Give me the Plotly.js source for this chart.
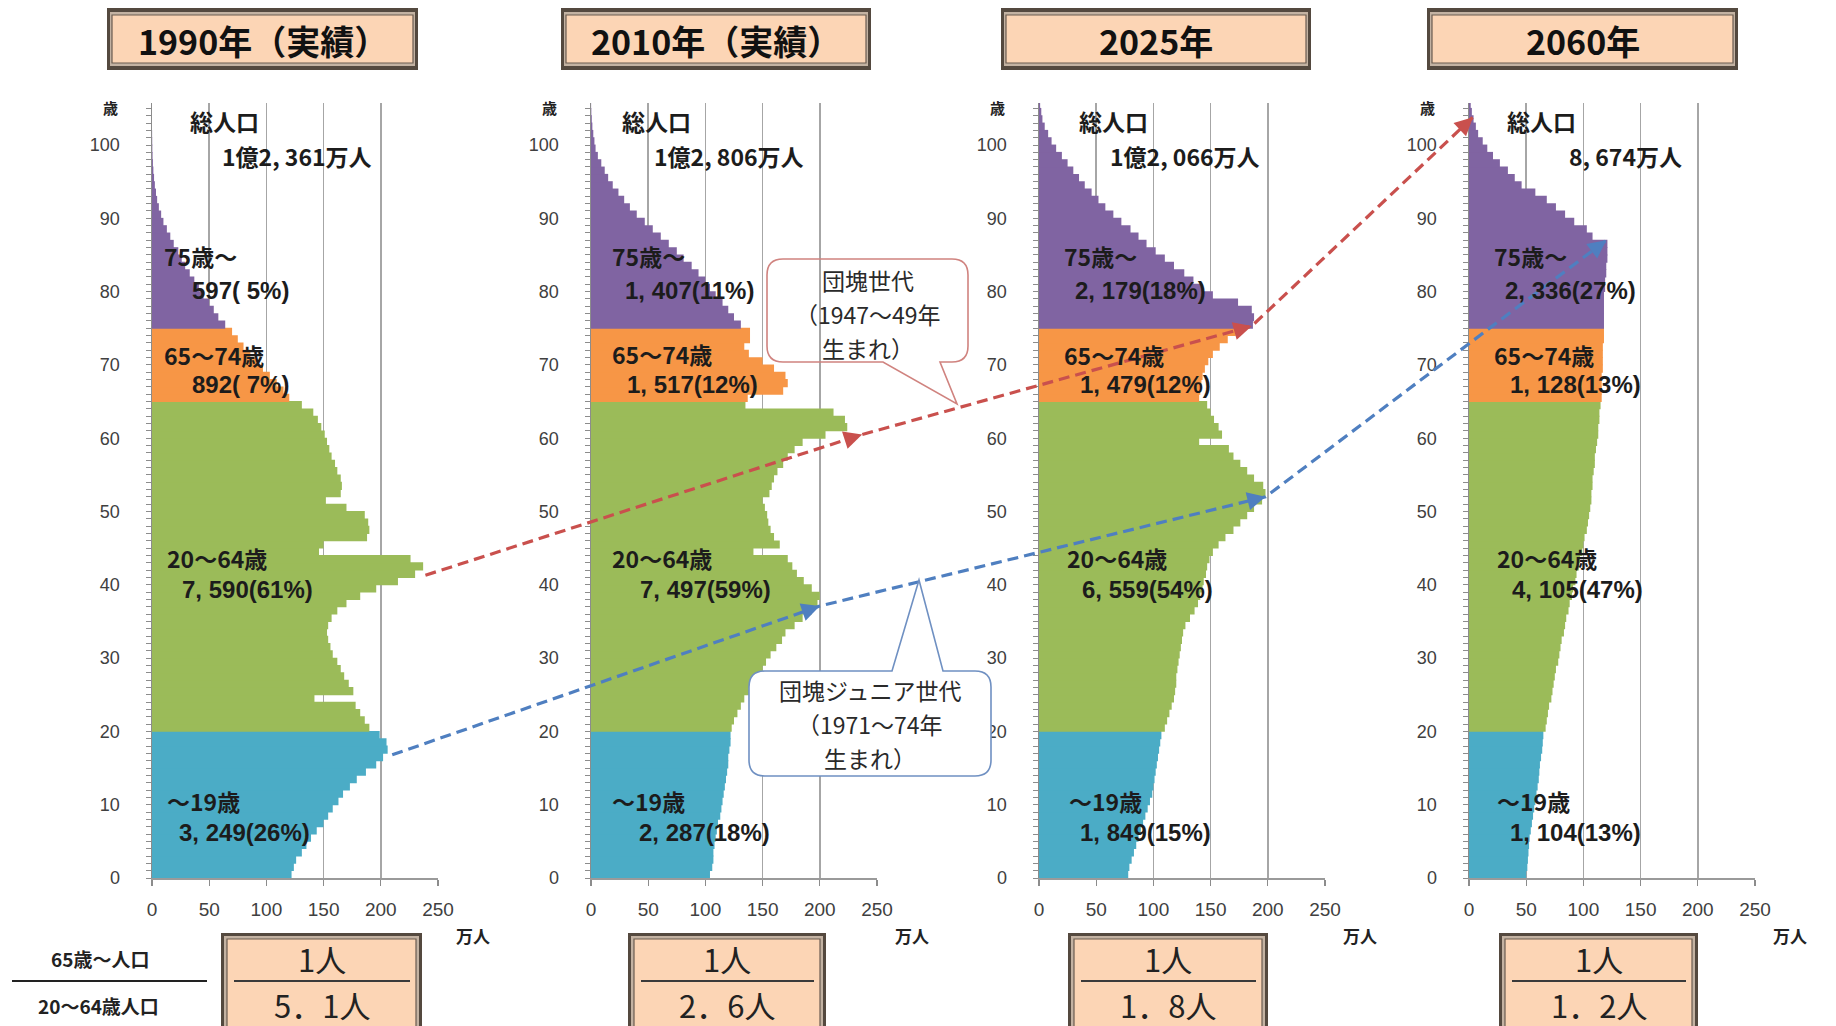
<!DOCTYPE html>
<html>
<head>
<meta charset="utf-8">
<script src="https://cdn.plot.ly/plotly-3.0.1.min.js"></script>
<style>html,body{margin:0;padding:0;background:#fff;} #chart{width:1836px;height:1026px;}</style>
</head>
<body>
<div id="chart"></div>
<script>
// ---------- DATA ----------
const ages = Array.from({length: 106}, (_, i) => i); // age categories 0..105

const pop1990 = [
  122,124,126,131,135,139,144,150,154,158,163,167,173,179,187,196,202,206,205,199,
  190,186,182,178,142,176,172,168,165,162, 158,156,154,153,154,157,162,170,182,196,
  215,230,237,226,146,150,188,190,189,186, 170,152,165,166,165,162,160,157,155,153,
  151,148,145,141,131,
  120,115,109,103,97,91,86,80,75,70,
  64,58,54,50,45,41,37,33,29,26,23,19,16,13,10,8,6,4.5,3.5,2.5,1.8,1.2,0.8,0.5,0.3,0.2,0.1,0,0,0,0
];
const pop2010 = [
  104,106,107,107,108,109,110,111,113,114,115,116,117,118,119,120,120,121,122,122,
  123,125,128,131,134,138,142,146,150,153, 157,162,167,170,178,185,193,198,200,193,
  186,180,176,172,142,165,160,157,155,154, 152,150,156,158,160,163,168,172,178,185,
  205,224,222,212,135,
  137,168,172,170,160,150,138,134,139,139,
  131,125,120,115,109,104,100,94,88,81,75,68,61,54,47,40,34,29,24,19,15,12,9,6,4,3,2,1.2,0.7,0.3,0.1
];
const pop2025 = [
  78,79,81,83,85,87,89,91,93,95,97,99,100,101,102,103,104,105,106,107,
  110,112,114,116,118,119,120,120,121,122, 123,124,125,126,128,132,136,139,141,143,
  144,146,147,149,152,157,163,170,176,182, 188,195,198,196,188,182,176,170,166,140,
  160,157,153,150,147,
  140,141,142,143,145,148,152,158,165,172,
  187,188,186,174,152,143,135,127,118,110,102,94,87,80,72,65,58,52,46,40,35,30,25,20,15,11,8,5,3,2,1
];
const pop2060 = [
  50,51,51.5,52,52.5,53,54,55,56,57,58,59,60,61,61.5,62,63,64,64.5,65,
  67,68,69,70,72,73,74,75,76,78, 79,80,81,83,84,85,87,88,90,91,
  93,94,96,97,99,100,101,103,104,105, 106,107,107,108,108,109,110,110,111,112,
  113,113,114,114,115,
  116,116,116,116,117,117,117,117,118,118,
  118,118,118,118,118,119,119,120,120,121,121,121,108,103,92,84,76,68,58,46,40,34,27,21,16,12,8,6,4,2.5,1.5
];
const pops = [pop1990, pop2010, pop2025, pop2060];

const groupStarts = [0, 20, 65, 75];
const groupNames = ['～19歳', '20～64歳', '65～74歳', '75歳～'];
const groupColors = ['#4BACC6', '#9BBB59', '#F79646', '#8064A2'];

const yearTitles = ['1990年（実績）', '2010年（実績）', '2025年', '2060年'];
const totals = ['1億2, 361万人', '1億2, 806万人', '1億2, 066万人', '8, 674万人'];
const g0Text  = ['3, 249(26%)', '2, 287(18%)', '1, 849(15%)', '1, 104(13%)'];
const g20Text = ['7, 590(61%)', '7, 497(59%)', '6, 559(54%)', '4, 105(47%)'];
const g65Text = ['892( 7%)', '1, 517(12%)', '1, 479(12%)', '1, 128(13%)'];
const g75Text = ['597( 5%)', '1, 407(11%)', '2, 179(18%)', '2, 336(27%)'];
const ratioText = ['5．1人', '2．6人', '1．8人', '1．2人'];

const xTicks = [0, 50, 100, 150, 200, 250];
const yTicks = [0, 10, 20, 30, 40, 50, 60, 70, 80, 90, 100];

// cohort arrows (value in 万人, age) per panel
const boomerPanel = [0, 1, 2, 3];
const boomerValue = [239, 237, 186, 3.5];
const boomerAge   = [41.3, 60.5, 75.3, 103.8];
const juniorPanel = [0, 1, 2, 3];
const juniorValue = [210, 200, 198, 120];
const juniorAge   = [16.8, 37.1, 52, 87];

// ---------- LAYOUT CONSTANTS ----------
const W = 1836, H = 1026;
const panelLeftPx = [152, 591, 1039, 1469];
const panelWidthPx = 286;
const plotTopPx = 103, plotBottomPx = 878;
const XMAX = 250;
const YMAX = (plotBottomPx - plotTopPx) / 7.33;

const FONT = '"Noto Sans CJK JP", "Noto Sans", sans-serif';
const NUMFONT = '"Liberation Sans", Arial, sans-serif';

function colorOf(age) {
  let g = 0;
  for (let k = 0; k < groupStarts.length; k++) if (age >= groupStarts[k]) g = k;
  return groupColors[g];
}
function pxX(panel, v) { return panelLeftPx[panel] + v / XMAX * panelWidthPx; }
function pxY(age) { return plotBottomPx - age / YMAX * (plotBottomPx - plotTopPx); }

const traces = [];
const layout = {
  width: W, height: H,
  margin: {l: 0, r: 0, t: 0, b: 0},
  paper_bgcolor: '#ffffff',
  plot_bgcolor: 'rgba(0,0,0,0)',
  showlegend: false,
  barmode: 'overlay',
  font: {family: FONT, color: '#222'},
  shapes: [],
  annotations: []
};

for (let i = 0; i < 4; i++) {
  const s = i === 0 ? '' : String(i + 1);
  const colors = ages.map(colorOf);
  traces.push({
    type: 'bar', orientation: 'h',
    x: pops[i], y: ages.map(a => a + 0.5), width: 1.12,
    marker: {color: colors, line: {width: 0}},
    xaxis: 'x' + s, yaxis: 'y' + s, hoverinfo: 'skip'
  });
  const l = panelLeftPx[i];
  layout['xaxis' + s] = {
    domain: [l / W, (l + panelWidthPx) / W], range: [0, XMAX], anchor: 'y' + s,
    tickmode: 'array', tickvals: xTicks, ticks: 'outside', ticklen: 6, tickcolor: '#8c8c8c', tickwidth: 1.2,
    showline: true, linecolor: '#9a9a9a', linewidth: 1.5,
    showgrid: true, gridcolor: '#a6a6a6', gridwidth: 1.6, zeroline: false,
    tickfont: {family: NUMFONT, size: 19, color: '#404040'}, ticklabelstandoff: 8,
    fixedrange: true
  };
  layout['yaxis' + s] = {
    domain: [1 - plotBottomPx / H, 1 - plotTopPx / H], range: [0, YMAX], anchor: 'x' + s,
    tickmode: 'array', tickvals: yTicks, ticks: 'outside', ticklen: 5, tickcolor: '#8c8c8c', tickwidth: 1,
    minor: {tickmode: 'linear', tick0: 0, dtick: 1, ticks: 'outside', ticklen: 5, tickcolor: '#8c8c8c', tickwidth: 1, showgrid: false},
    showline: true, linecolor: '#8c8c8c', linewidth: 1.5, showgrid: false, zeroline: false,
    tickfont: {family: NUMFONT, size: 18, color: '#404040'}, ticklabelstandoff: 22,
    fixedrange: true
  };
}

// overlay pixel axes for decorations
layout.xaxis5 = {domain: [0, 1], range: [0, W], visible: false, fixedrange: true, anchor: 'y5'};
layout.yaxis5 = {domain: [0, 1], range: [H, 0], visible: false, fixedrange: true, anchor: 'x5'};

// ---------- cohort arrows ----------
function addArrow(panels, values, agesArr, color) {
  const xs = panels.map((p, k) => pxX(p, values[k]));
  const ys = agesArr.map(a => pxY(a));
  traces.push({
    type: 'scatter', mode: 'lines', x: xs, y: ys, xaxis: 'x5', yaxis: 'y5',
    line: {color: color, width: 3.2, dash: '11px,6px'}, hoverinfo: 'skip'
  });
  for (let k = 1; k < xs.length; k++) {
    const dx = xs[k] - xs[k - 1], dy = ys[k] - ys[k - 1];
    const len = Math.hypot(dx, dy);
    layout.annotations.push({
      x: xs[k], y: ys[k], ax: xs[k] - dx / len * 14, ay: ys[k] - dy / len * 14,
      xref: 'x5', yref: 'y5', axref: 'x5', ayref: 'y5', text: '',
      showarrow: true, arrowhead: 2, arrowsize: 1.4, arrowwidth: 2.6, arrowcolor: color, standoff: 0
    });
  }
}
addArrow(boomerPanel, boomerValue, boomerAge, '#C9504D');
addArrow(juniorPanel, juniorValue, juniorAge, '#4F7FC0');

// ---------- panel labels ----------
// [x value of left edge, age of line centre]
const labelPos = [
  {tot0: [31.5, 103.3], tot1: [59.4, 98.5], g75a: [8.7, 84.8], g75b: [33, 80.2], g65a: [8.7, 71.4], g65b: [33, 67.3], g20a: [11.4, 43.6], g20b: [24.5, 39.4], g0a: [11.4, 10.5], g0b: [21.9, 6.2]},
  {tot0: [25, 103.3],   tot1: [53, 98.5],   g75a: [16.6, 84.8], g75b: [28, 80.2], g65a: [16.6, 71.5], g65b: [29.7, 67.3], g20a: [16.6, 43.6], g20b: [41, 39.4], g0a: [16.6, 10.5], g0b: [40, 6.2]},
  {tot0: [33, 103.3],   tot1: [60, 98.5],   g75a: [20, 84.8], g75b: [30, 80.2], g65a: [20, 71.4], g65b: [34, 67.3], g20a: [23, 43.6], g20b: [36, 39.4], g0a: [24.5, 10.5], g0b: [34, 6.2]},
  {tot0: [31.5, 103.3], tot1: [86, 98.5],   g75a: [20, 84.8], g75b: [30, 80.2], g65a: [20, 71.4], g65b: [34, 67.3], g20a: [23, 43.6], g20b: [36, 39.4], g0a: [23, 10.5], g0b: [34, 6.2]}
];

for (let i = 0; i < 4; i++) {
  const s = i === 0 ? '' : String(i + 1);
  const P = labelPos[i];
  const cjk = [['総人口', P.tot0], [totals[i], P.tot1],
    [groupNames[3], P.g75a], [groupNames[2], P.g65a], [groupNames[1], P.g20a], [groupNames[0], P.g0a]];
  cjk.forEach(([t, p]) => {
    layout.annotations.push({
      x: p[0], y: p[1], xref: 'x' + s, yref: 'y' + s, text: t, showarrow: false,
      xanchor: 'left', yanchor: 'middle',
      font: {family: FONT, size: 23, color: '#1c1c1c', weight: 'bold'}
    });
  });
  const nums = [[g75Text[i], P.g75b], [g65Text[i], P.g65b], [g20Text[i], P.g20b], [g0Text[i], P.g0b]];
  nums.forEach(([t, p]) => {
    layout.annotations.push({
      x: p[0], y: p[1], xref: 'x' + s, yref: 'y' + s, text: t, showarrow: false,
      xanchor: 'left', yanchor: 'middle',
      font: {family: NUMFONT, size: 24, color: '#1c1c1c', weight: 'bold'}
    });
  });
  // 歳 label
  layout.annotations.push({
    x: panelLeftPx[i] - 42, y: 107, xref: 'x5', yref: 'y5', text: '歳', showarrow: false,
    font: {family: FONT, size: 15, color: '#222', weight: 'bold'}
  });
  // 万人 label
  layout.annotations.push({
    x: panelLeftPx[i] + panelWidthPx + 35, y: 935, xref: 'x5', yref: 'y5', text: '万人', showarrow: false,
    font: {family: FONT, size: 17, color: '#222', weight: 'bold'}
  });
}

// ---------- header boxes ----------
const headerBoxes = [[107, 418], [561, 871], [1001, 1311], [1427, 1738]];
headerBoxes.forEach(([x0, x1], i) => {
  layout.shapes.push({type: 'rect', xref: 'x5', yref: 'y5', x0: x0, x1: x1, y0: 8, y1: 70,
    fillcolor: '#54493f', line: {width: 0}, layer: 'above'});
  layout.shapes.push({type: 'rect', xref: 'x5', yref: 'y5', x0: x0 + 3, x1: x1 - 3, y0: 12, y1: 66,
    fillcolor: '#c3b2a2', line: {width: 0}, layer: 'above'});
  layout.shapes.push({type: 'rect', xref: 'x5', yref: 'y5', x0: x0 + 5, x1: x1 - 5, y0: 15, y1: 63,
    fillcolor: '#FCD5B5', line: {color: '#6a5c50', width: 1.2}, layer: 'above'});
  layout.annotations.push({x: (x0 + x1) / 2, y: 40, xref: 'x5', yref: 'y5', text: yearTitles[i],
    showarrow: false, font: {family: FONT, size: 34, color: '#111', weight: 'bold'}});
});

// ---------- footer boxes ----------
const footerBoxes = [[221, 422], [628, 826], [1068, 1268], [1499, 1698]];
footerBoxes.forEach(([x0, x1], i) => {
  layout.shapes.push({type: 'rect', xref: 'x5', yref: 'y5', x0: x0, x1: x1, y0: 933, y1: 1040,
    fillcolor: '#54493f', line: {width: 0}, layer: 'above'});
  layout.shapes.push({type: 'rect', xref: 'x5', yref: 'y5', x0: x0 + 3, x1: x1 - 3, y0: 936, y1: 1040,
    fillcolor: '#c3b2a2', line: {width: 0}, layer: 'above'});
  layout.shapes.push({type: 'rect', xref: 'x5', yref: 'y5', x0: x0 + 6, x1: x1 - 6, y0: 939, y1: 1040,
    fillcolor: '#FCD5B5', line: {color: '#6a5c50', width: 1.2}, layer: 'above'});
  layout.shapes.push({type: 'line', xref: 'x5', yref: 'y5', x0: x0 + 13, x1: x1 - 12, y0: 981, y1: 981,
    line: {color: '#3a3a3a', width: 2}, layer: 'above'});
  const cx = (x0 + x1) / 2;
  layout.annotations.push({x: cx, y: 958, xref: 'x5', yref: 'y5', text: '1人', showarrow: false,
    font: {family: FONT, size: 31, color: '#222'}});
  layout.annotations.push({x: cx, y: 1004, xref: 'x5', yref: 'y5', text: ratioText[i], showarrow: false,
    font: {family: FONT, size: 31, color: '#222'}});
});

// left footer fraction label
layout.shapes.push({type: 'line', xref: 'x5', yref: 'y5', x0: 12, x1: 207, y0: 981, y1: 981,
  line: {color: '#222', width: 2}, layer: 'above'});
layout.annotations.push({x: 100, y: 958, xref: 'x5', yref: 'y5', text: '65歳～人口', showarrow: false,
  font: {family: FONT, size: 19, color: '#222', weight: 'bold'}});
layout.annotations.push({x: 98, y: 1005, xref: 'x5', yref: 'y5', text: '20～64歳人口', showarrow: false,
  font: {family: FONT, size: 19, color: '#222', weight: 'bold'}});

// ---------- callouts ----------
function calloutPath(x0, y0, x1, y1, r, side, b0, b1, tx, ty) {
  let p = `M ${x0 + r},${y0} `;
  if (side === 'top') p += `L ${b0},${y0} L ${tx},${ty} L ${b1},${y0} `;
  p += `L ${x1 - r},${y0} Q ${x1},${y0} ${x1},${y0 + r} L ${x1},${y1 - r} Q ${x1},${y1} ${x1 - r},${y1} `;
  if (side === 'bottom') p += `L ${b1},${y1} L ${tx},${ty} L ${b0},${y1} `;
  p += `L ${x0 + r},${y1} Q ${x0},${y1} ${x0},${y1 - r} L ${x0},${y0 + r} Q ${x0},${y0} ${x0 + r},${y0} Z`;
  return p;
}
layout.shapes.push({type: 'path', xref: 'x5', yref: 'y5', layer: 'above',
  path: calloutPath(767, 259, 968, 362, 16, 'bottom', 883, 940, 957, 404),
  fillcolor: 'rgba(255,255,255,0)', line: {color: '#D0837F', width: 1.6}});
layout.shapes.push({type: 'path', xref: 'x5', yref: 'y5', layer: 'above',
  path: calloutPath(749, 671, 991, 776, 16, 'top', 892, 943, 919, 580),
  fillcolor: '#ffffff', line: {color: '#6F90C2', width: 1.6}});

const callout1 = ['団塊世代', '（1947～49年', '生まれ）'];
const callout2 = ['団塊ジュニア世代', '（1971～74年', '生まれ）'];
[280, 314, 348].forEach((y, k) => layout.annotations.push({x: 868, y: y, xref: 'x5', yref: 'y5',
  text: callout1[k], showarrow: false, font: {family: FONT, size: 23, color: '#2a2a2a'}}));
[690, 724, 758].forEach((y, k) => layout.annotations.push({x: 870, y: y, xref: 'x5', yref: 'y5',
  text: callout2[k], showarrow: false, font: {family: FONT, size: 23, color: '#2a2a2a'}}));

Plotly.newPlot('chart', traces, layout, {staticPlot: true, displayModeBar: false});
</script>
</body>
</html>
